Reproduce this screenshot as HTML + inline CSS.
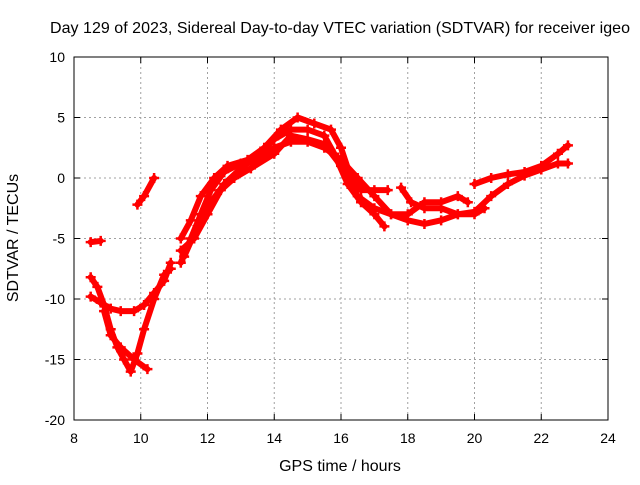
<!DOCTYPE html>
<html><head><meta charset="utf-8"><style>
body{margin:0;background:#fff}
svg text{font-family:"Liberation Sans",sans-serif;font-size:14px;fill:#000}
svg text.big{font-size:16px}
</style></head><body>
<svg width="640" height="480">
<rect width="640" height="480" fill="#fff"/>
<g id="grid"></g><g id="axes"></g><g id="series"></g>
<text class="big" x="340" y="33" text-anchor="middle" textLength="580">Day 129 of 2023, Sidereal Day-to-day VTEC variation (SDTVAR) for receiver igeo</text>
<text class="big" x="340" y="471" text-anchor="middle">GPS time / hours</text>
<text class="big" transform="translate(18,238) rotate(-90)" text-anchor="middle">SDTVAR / TECUs</text>
</svg>
<script>
const xTicks=[8,10,12,14,16,18,20,22,24];
const yTicks=[-20,-15,-10,-5,0,5,10];
const track1Hours=[8.5,8.7,8.9,9.1,9.3,9.5,9.7,9.9,10.1,10.4,10.7,10.9];
const track1Vals=[-8.2,-9,-10.5,-12.5,-14,-15,-16,-14.5,-12.5,-10,-8,-7.5];
const track2Hours=[8.5,8.8,9.1,9.4,9.8,10.1,10.4,10.7,10.9];
const track2Vals=[-9.8,-10.3,-10.8,-11,-11,-10.5,-9.5,-8.5,-7];
const track3Hours=[8.9,9.1,9.4,9.8,10.2];
const track3Vals=[-11,-13,-14,-15,-15.8];
const track4Hours=[8.5,8.8];
const track4Vals=[-5.3,-5.2];
const track5Hours=[9.9,10.1,10.4];
const track5Vals=[-2.2,-1.5,0];
const track6Hours=[11.2,11.5,11.8,12.1,12.5,13,13.5,14,14.5,15,15.5,16,16.5,17,17.5,18,18.5,19,19.5,20,20.5,21,21.5,22,22.5,22.8];
const track6Vals=[-7,-5,-3,-1,0.5,1.2,1.5,2.5,3,3,2.5,1.5,0,-1.5,-3,-3.5,-3.8,-3.5,-3,-2.8,-1.5,-0.5,0.2,0.7,1.2,1.2];
const track7Hours=[11.2,11.5,11.8,12.2,12.6,13.2,13.7,14.2,14.7,15.2,15.7,16,16.3,16.6,17,17.4];
const track7Vals=[-5,-3.5,-1.5,0,1,1.5,2.5,4,5,4.5,4,2.5,0,-1,-1,-1];
const track8Hours=[11.3,11.7,12.1,12.5,13,13.5,14,14.5,15,15.5,15.8,16.2,16.6,17,17.3];
const track8Vals=[-6.5,-4,-2,-0.5,0.8,1.8,3.2,4,4,3.5,2,-0.5,-2,-3,-4];
const track9Hours=[11.2,11.6,12,12.4,12.8,13.3,14,14.5,15,15.5,16,16.5,17,17.5,18,18.5,19,19.5,19.8];
const track9Vals=[-6,-5,-3,-1,0,0.8,2,3.5,3.2,2.8,1,-1.5,-2.5,-3,-3,-2,-2,-1.5,-2];
const track10Hours=[17.8,18.1,18.5,19,19.5,20,20.3];
const track10Vals=[-0.8,-2,-2.5,-2.5,-3,-3,-2.5];
const track11Hours=[20,20.5,21,21.5,22,22.5,22.8];
const track11Vals=[-0.5,0,0.3,0.5,1,2,2.7];
const tracks=[[track1Hours,track1Vals],[track2Hours,track2Vals],[track3Hours,track3Vals],[track4Hours,track4Vals],[track5Hours,track5Vals],[track6Hours,track6Vals],[track7Hours,track7Vals],[track8Hours,track8Vals],[track9Hours,track9Vals],[track10Hours,track10Vals],[track11Hours,track11Vals]];
const L=74,R=608,T=57,B=420;
const X=h=>L+(h-8)/(24-8)*(R-L);
const Y=v=>B-(v+20)/30*(B-T);
const NS='http://www.w3.org/2000/svg';
function mk(tag,attrs,parent){const e=document.createElementNS(NS,tag);for(const k in attrs)e.setAttribute(k,attrs[k]);parent.appendChild(e);return e;}
const grid=document.getElementById('grid'),axes=document.getElementById('axes'),series=document.getElementById('series');
xTicks.forEach(t=>{const x=X(t);
 if(t>8&&t<24){const g=mk('line',{x1:x,x2:x,y1:T,y2:B,stroke:'#a0a0a0','stroke-dasharray':'2,3'},grid);
 
 }
 mk('line',{x1:x,x2:x,y1:B,y2:B-6,stroke:'#000'},axes);mk('line',{x1:x,x2:x,y1:T,y2:T+6,stroke:'#000'},axes);
 const tx=mk('text',{x:x,y:B+23,'text-anchor':'middle'},axes);tx.textContent=t;
 
 });
yTicks.forEach(t=>{const y=Y(t);
 if(t>-20&&t<10){const g=mk('line',{x1:L,x2:R,y1:y,y2:y,stroke:'#a0a0a0','stroke-dasharray':'2,3'},grid);
 
 }
 mk('line',{x1:L,x2:L+6,y1:y,y2:y,stroke:'#000'},axes);mk('line',{x1:R,x2:R-6,y1:y,y2:y,stroke:'#000'},axes);
 const tx=mk('text',{x:L-9,y:y+5,'text-anchor':'end'},axes);tx.textContent=t;
 
 });
const fr=mk('rect',{x:L,y:T,width:R-L,height:B-T,fill:'none',stroke:'#000'},axes);


tracks.forEach((tr,i)=>{const [hs,vs]=tr;
 const pts=hs.map((h,j)=>X(h)+','+Y(vs[j])).join(' ');
 const pl=mk('polyline',{points:pts,fill:'none',stroke:'#ff0000','stroke-width':6,'stroke-linejoin':'round','stroke-linecap':'round'},series);
 
 
 hs.forEach((h,j)=>{const x=X(h),y=Y(vs[j]);
  const p=mk('path',{d:`M${x-5},${y}H${x+5}M${x},${y-5}V${y+5}`,stroke:'#ff0000','stroke-width':2.5},series);
  
  });
});
</script>
</body></html>
